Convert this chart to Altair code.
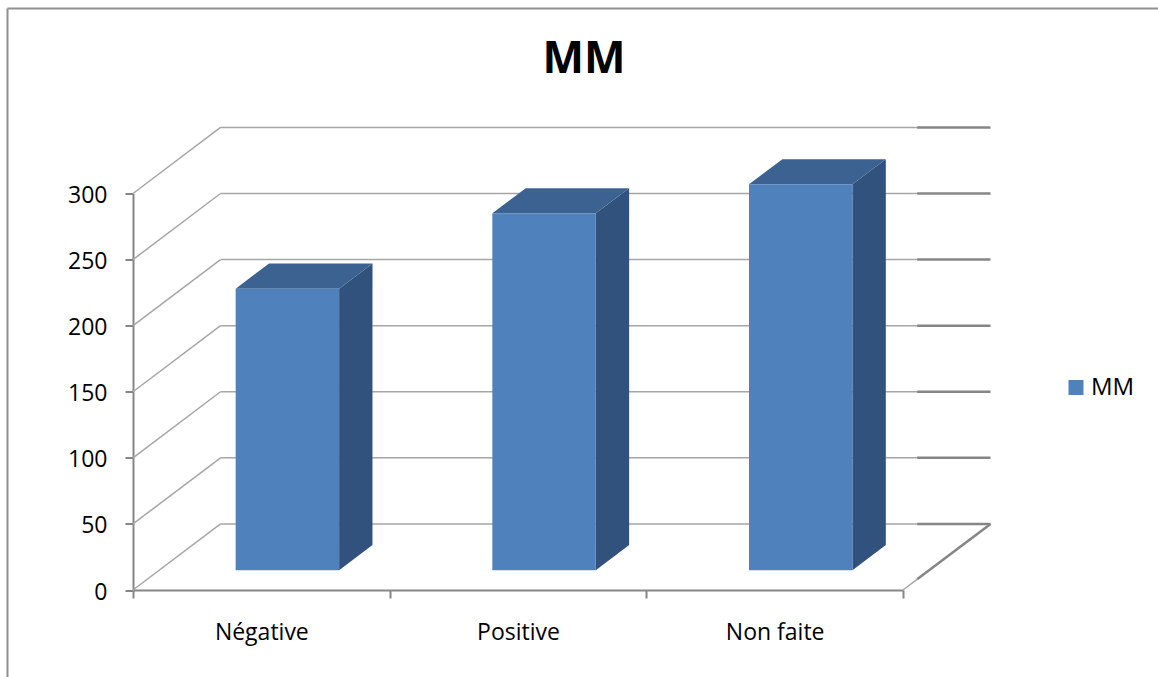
import altair as alt
import pandas as pd

CATEGORIES = ["Négative", "Positive", "Non faite"]
VALUES = [213, 270, 292]
SERIES = "MM"
Y_TICKS = [0, 50, 100, 150, 200, 250, 300]

FONT = "Open Sans"
AXIS_GREY = "#868686"
GRID_GREY = "#a6a6a6"
FRONT = "#4F81BD"
TOP = "#3B6290"
SIDE = "#31527C"

# Depth of the 3D box, in x-scale units (categories) and y-scale units (values)
WALL_DX, WALL_DY = 0.341, 50
BAR_START_DX, BAR_BASE = 0.103, 15
BAR_DX, BAR_DY = 0.13, 19
BAR_LEFT, BAR_WIDTH = 0.40, 0.403
HEAVY_FROM = 3.055
N = len(CATEGORIES)

x_scale = alt.Scale(domain=[0, N], nice=False, zero=False)
y_scale = alt.Scale(domain=[0, 300], nice=False)
y_axis = alt.Axis(
    title=None, values=Y_TICKS, tickSize=8, tickWidth=2,
    tickColor=AXIS_GREY, domainColor=AXIS_GREY, domainWidth=2,
    labelFont=FONT, labelFontSize=23, labelColor="#000000", labelPadding=18,
    labelOffset=2, grid=False,
)


def x_enc(field="x"):
    return alt.X(f"{field}:Q", scale=x_scale, axis=None)


def y_enc(field="y"):
    return alt.Y(f"{field}:Q", scale=y_scale, axis=y_axis)


def segments(rows, color, width):
    return alt.Chart(pd.DataFrame(rows, columns=["x", "x2", "y", "y2"])).mark_rule(
        color=color, strokeWidth=width
    ).encode(
        x=x_enc(), x2="x2:Q", y=y_enc(), y2="y2:Q"
    )


# Frame around the chart
frame_color = "#8f8f8f"
frame_top = alt.Chart(pd.DataFrame({"k": [0]})).mark_rule(color=frame_color, strokeWidth=2).encode(
    x=alt.value(-125.5), x2=alt.value(1025), y=alt.value(-185)
)
frame_left = alt.Chart(pd.DataFrame({"k": [0]})).mark_rule(color=frame_color, strokeWidth=2).encode(
    x=alt.value(-125.5), y=alt.value(-185), y2=alt.value(484)
)

# Category axis with ticks on the band edges; the value axis is shared by all layers
axis_layer = alt.Chart(pd.DataFrame({"cat": CATEGORIES, "v": VALUES})).mark_point(opacity=0).encode(
    x=alt.X(
        "cat:N",
        sort=None,
        scale=alt.Scale(type="band", domain=CATEGORIES, paddingInner=0, paddingOuter=0),
        axis=alt.Axis(
            title=None, labelAngle=0, tickBand="extent", tickSize=8, tickWidth=2,
            tickColor=AXIS_GREY, domainColor=AXIS_GREY, domainWidth=2,
            labelFont=FONT, labelFontSize=23, labelColor="#000000", labelPadding=23,
            grid=False,
        ),
    ),
    y=alt.Y("v:Q", scale=y_scale, axis=y_axis),
)

# Walls: left-side diagonals, back-wall lines and the floor edge
diagonals = segments([(0, WALL_DX, t, t + WALL_DY) for t in Y_TICKS], GRID_GREY, 1.5)
back_lines = segments([(WALL_DX, HEAVY_FROM, t + WALL_DY, t + WALL_DY) for t in Y_TICKS], GRID_GREY, 1.5)
back_heavy = segments([(HEAVY_FROM, N + WALL_DX, t + WALL_DY, t + WALL_DY) for t in Y_TICKS], AXIS_GREY, 2.5)
floor_edge = segments([(N, HEAVY_FROM, 0, WALL_DY * (HEAVY_FROM - N) / WALL_DX)], GRID_GREY, 1.5)
floor_heavy = segments([(HEAVY_FROM, N + WALL_DX, WALL_DY * (HEAVY_FROM - N) / WALL_DX, WALL_DY)], AXIS_GREY, 2.5)

# Box faces for each bar
front_rows, top_rows, side_rows = [], [], []
for i, (cat, v) in enumerate(zip(CATEGORIES, VALUES)):
    x0 = i + BAR_LEFT
    x1 = x0 + BAR_WIDTH
    y0 = BAR_BASE
    yt = BAR_BASE + v
    front_rows.append({"series": SERIES, "x": x0, "x2": x1, "y": y0, "y2": yt})
    # top face: a parallelogram cut into vertical spans
    top_rows += [
        {"bar": cat, "x": x0, "lo": yt, "hi": yt},
        {"bar": cat, "x": x0 + BAR_DX, "lo": yt, "hi": yt + BAR_DY},
        {"bar": cat, "x": x1, "lo": yt, "hi": yt + BAR_DY},
        {"bar": cat, "x": x1 + BAR_DX, "lo": yt + BAR_DY, "hi": yt + BAR_DY},
    ]
    side_rows += [
        {"bar": cat, "x": x1, "lo": y0, "hi": yt},
        {"bar": cat, "x": x1 + BAR_DX, "lo": y0 + BAR_DY, "hi": yt + BAR_DY},
    ]


def face(rows, color):
    return alt.Chart(pd.DataFrame(rows)).mark_area(color=color, opacity=1).encode(
        x=x_enc(), y=y_enc("lo"), y2="hi:Q", detail="bar:N"
    )


front = alt.Chart(pd.DataFrame(front_rows)).mark_rect().encode(
    x=x_enc(), x2="x2:Q", y=y_enc(), y2="y2:Q",
    color=alt.Color(
        "series:N",
        scale=alt.Scale(domain=[SERIES], range=[FRONT]),
        legend=alt.Legend(
            title=None, orient="none", legendX=931, legendY=182,
            symbolType="square", symbolSize=225, symbolStrokeWidth=0,
            labelFont=FONT, labelFontSize=24, labelColor="#000000", labelOffset=3,
        ),
    ),
)

chart = alt.layer(
    axis_layer,
    frame_top, frame_left,
    diagonals, back_lines, back_heavy, floor_edge, floor_heavy,
    face(side_rows, SIDE), face(top_rows, TOP), front,
).resolve_scale(x="independent").properties(
    width=770,
    height=396.5,
    background="#ffffff",
    padding={"left": 133, "top": 193.5, "right": 255, "bottom": 87},
    autosize=alt.AutoSizeParams(type="none"),
    title=alt.TitleParams(
        "MM", font=FONT, fontSize=44, fontWeight="bold", color="#000000",
        anchor="middle", baseline="alphabetic", offset=0, dx=66, dy=109,
    ),
).configure_view(stroke=None)

chart.save("out.html", embed_options={"renderer": "svg", "actions": False})
